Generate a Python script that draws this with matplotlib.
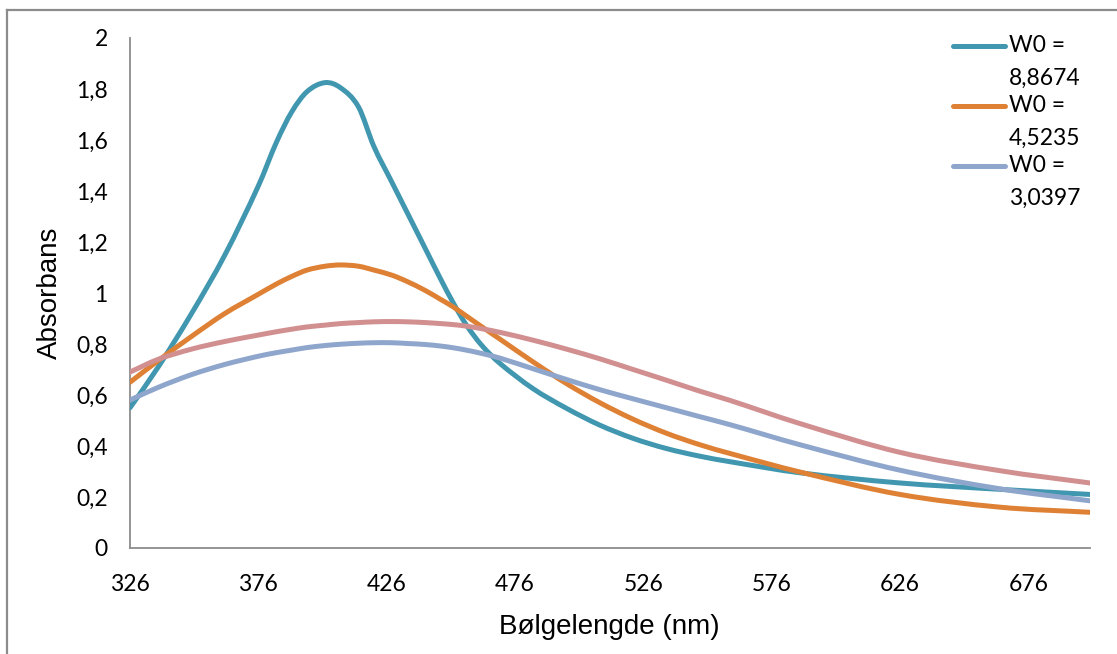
import matplotlib
matplotlib.use("Agg")
import matplotlib.pyplot as plt
from matplotlib.lines import Line2D
from matplotlib.path import Path
from matplotlib.patches import PathPatch

# Wavelength grid (nm) and measured absorbance for each sample
wavelength = [326, 337, 350, 363, 376, 383, 389, 395, 402, 408, 415, 421, 428, 434,
              441, 447, 452, 457, 463, 470, 483, 496, 509, 522, 535, 548, 560, 587,
              626, 665, 700]

abs_w0_88674 = [0.55, 0.71, 0.92, 1.15, 1.42, 1.59, 1.71, 1.79, 1.825, 1.805, 1.73, 1.575,
                1.435, 1.315, 1.175, 1.055, 0.96, 0.875, 0.795, 0.725, 0.625, 0.548, 0.482,
                0.43, 0.39, 0.36, 0.338, 0.295, 0.255, 0.23, 0.21]

abs_w0_45235 = [0.65, 0.735, 0.83, 0.92, 0.995, 1.035, 1.065, 1.09, 1.105, 1.11, 1.105,
                1.09, 1.07, 1.045, 1.01, 0.975, 0.945, 0.91, 0.868, 0.82, 0.73, 0.645,
                0.57, 0.505, 0.45, 0.405, 0.37, 0.298, 0.21, 0.16, 0.14]

abs_w0_30397 = [0.58, 0.63, 0.68, 0.72, 0.752, 0.766, 0.776, 0.786, 0.794, 0.799, 0.803,
                0.805, 0.805, 0.802, 0.798, 0.792, 0.785, 0.776, 0.763, 0.745, 0.703, 0.661,
                0.621, 0.585, 0.55, 0.515, 0.483, 0.405, 0.305, 0.232, 0.185]

abs_unlabelled = [0.69, 0.74, 0.78, 0.81, 0.835, 0.848, 0.858, 0.867, 0.874, 0.88, 0.884,
                  0.887, 0.888, 0.887, 0.884, 0.88, 0.876, 0.87, 0.86, 0.846, 0.815, 0.78,
                  0.742, 0.70, 0.658, 0.615, 0.578, 0.488, 0.375, 0.303, 0.255]

legend_labels = ["W0 =\n8,8674", "W0 =\n4,5235", "W0 =\n3,0397"]
x_ticks = [326, 376, 426, 476, 526, 576, 626, 676]
y_ticks = [0, 0.2, 0.4, 0.6, 0.8, 1.0, 1.2, 1.4, 1.6, 1.8, 2.0]
y_tick_labels = ["0", "0,2", "0,4", "0,6", "0,8", "1", "1,2", "1,4", "1,6", "1,8", "2"]

colors = ["#4097AF", "#DE8135", "#8FA6CC", "#D18F90"]
W, H = 1117, 654


def smooth_path(xs, ys):
    """Piecewise cubic Hermite curve through the points, as Bezier segments."""
    n = len(xs)
    slopes = []
    for i in range(n):
        if i == 0:
            m = (ys[1] - ys[0]) / (xs[1] - xs[0])
        elif i == n - 1:
            m = (ys[-1] - ys[-2]) / (xs[-1] - xs[-2])
        else:
            m = (ys[i + 1] - ys[i - 1]) / (xs[i + 1] - xs[i - 1])
        slopes.append(m)
    verts = [(xs[0], ys[0])]
    codes = [Path.MOVETO]
    for i in range(n - 1):
        h = xs[i + 1] - xs[i]
        verts += [(xs[i] + h / 3, ys[i] + slopes[i] * h / 3),
                  (xs[i + 1] - h / 3, ys[i + 1] - slopes[i + 1] * h / 3),
                  (xs[i + 1], ys[i + 1])]
        codes += [Path.CURVE4] * 3
    return Path(verts, codes)


fig = plt.figure(figsize=(W / 100, H / 100), dpi=100)
ax = fig.add_axes([130 / W, 1 - 548 / H, (1090 - 130) / W, (548 - 38) / H])

lw = 3.6
series = [abs_w0_88674, abs_w0_45235, abs_w0_30397, abs_unlabelled]
for vals, c in zip(series, colors):
    patch = PathPatch(smooth_path(wavelength, vals), facecolor="none", edgecolor=c,
                      lw=lw, capstyle="round", joinstyle="round", zorder=3)
    ax.add_patch(patch)

ax.set_xlim(326, 700)
ax.set_ylim(0, 2)
ax.set_xticks(x_ticks)
ax.set_xticklabels([str(t) for t in x_ticks])
ax.set_yticks(y_ticks)
ax.set_yticklabels(y_tick_labels)

for lbl in ax.get_xticklabels() + ax.get_yticklabels():
    lbl.set_fontfamily(["Lato", "DejaVu Sans"])
    lbl.set_fontsize(16.5)
ax.tick_params(axis="both", length=0)
ax.tick_params(axis="x", pad=19)
ax.tick_params(axis="y", pad=16)

for side in ("top", "right"):
    ax.spines[side].set_visible(False)
for side in ("left", "bottom"):
    ax.spines[side].set_color("#8C8C8C")
    ax.spines[side].set_linewidth(1.3)

fig.text(609 / W, 1 - 627 / H, "Bølgelengde (nm)", ha="center", va="center",
         fontsize=20, family=["Liberation Sans", "DejaVu Sans"])
fig.text(50 / W, 1 - 293 / H, "Absorbans", ha="center", va="center", rotation=90,
         fontsize=20, family=["Liberation Sans Narrow", "Liberation Sans", "DejaVu Sans"])

# Legend for the three labelled samples
leg_y = [46, 106, 166]
for lab, c, y in zip(legend_labels, colors[:3], leg_y):
    fig.add_artist(Line2D([953 / W, 1005 / W], [1 - y / H, 1 - y / H], color=c,
                          lw=lw, solid_capstyle="round"))
    first, second = lab.split("\n")
    fig.text(1009 / W, 1 - y / H, first, ha="left", va="center", fontsize=16.5,
             family=["Lato", "DejaVu Sans"])
    fig.text(1009 / W, 1 - (y + 32) / H, second, ha="left", va="center", fontsize=16.5,
             family=["Lato", "DejaVu Sans"])

# Chart area border (left and top edges)
fig.add_artist(Line2D([7 / W, 7 / W], [0, 1 - 10 / H], color="#8C8C8C", lw=1.6))
fig.add_artist(Line2D([7 / W, 1], [1 - 10 / H, 1 - 10 / H], color="#8C8C8C", lw=1.6))

fig.savefig("out.png", dpi=100)
